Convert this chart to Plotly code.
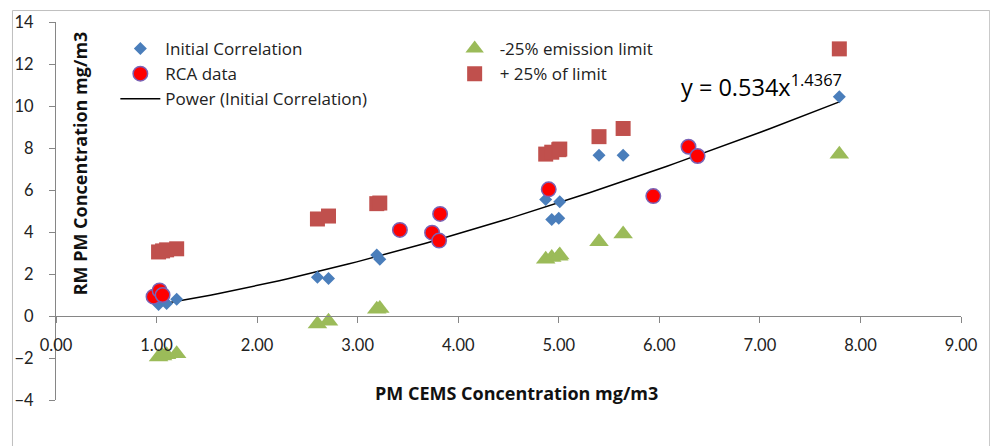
import plotly.graph_objects as go

# ---- data ----
ic_x = [1.02, 1.06, 1.10, 1.20, 2.60, 2.71, 3.19, 3.22, 4.87, 4.93, 5.00, 5.01, 5.40, 5.64, 7.79]
ic_y = [0.55, 0.90, 0.60, 0.80, 1.84, 1.78, 2.90, 2.70, 5.55, 4.60, 4.65, 5.44, 7.65, 7.65, 10.44]

rca_x = [0.97, 1.03, 1.06, 3.42, 3.74, 3.82, 3.81, 4.90, 5.94, 6.29, 6.38]
rca_y = [0.92, 1.22, 1.00, 4.10, 3.97, 4.86, 3.59, 6.03, 5.71, 8.06, 7.62]

lo_x = [1.02, 1.06, 1.10, 1.20, 2.60, 2.71, 3.19, 3.22, 4.87, 4.93, 5.00, 5.01, 5.40, 5.64, 7.79]
lo_y = [-1.95, -1.90, -1.85, -1.80, -0.38, -0.25, 0.32, 0.36, 2.70, 2.78, 2.85, 2.90, 3.54, 3.90, 7.70]

hi_x = [1.02, 1.06, 1.10, 1.20, 2.60, 2.71, 3.19, 3.22, 4.87, 4.93, 5.00, 5.01, 5.40, 5.64, 7.79]
hi_y = [3.05, 3.10, 3.15, 3.20, 4.62, 4.76, 5.35, 5.38, 7.71, 7.80, 7.92, 7.95, 8.54, 8.93, 12.72]

# power trendline shown on the chart: y = 0.534 x^1.4367
fit_a = 0.534
fit_b = 1.4367

x_ticks = [0, 1, 2, 3, 4, 5, 6, 7, 8, 9]
y_ticks = [-4, -2, 0, 2, 4, 6, 8, 10, 12, 14]

FONT = "Open Sans"
TICKFONT = "Lato"

# trendline over the range of the initial-correlation data
x0, x1 = min(ic_x), max(ic_x)
n = 80
fit_x = [x0 + (x1 - x0) * i / (n - 1) for i in range(n)]
fit_y = [fit_a * v ** fit_b for v in fit_x]

fig = go.Figure()

fig.add_trace(go.Scatter(
    x=fit_x, y=fit_y, mode="lines", name="Power (Initial Correlation)",
    line=dict(color="black", width=1.5), legend="legend", legendrank=3,
    hoverinfo="skip"))

fig.add_trace(go.Scatter(
    x=lo_x, y=lo_y, mode="markers", name="-25% emission limit",
    marker=dict(symbol="triangle-up", size=17, color="#9BBB59"),
    legend="legend2", legendrank=1))

fig.add_trace(go.Scatter(
    x=hi_x, y=hi_y, mode="markers", name="+ 25% of limit",
    marker=dict(symbol="square", size=15, color="#C0504D"),
    legend="legend2", legendrank=2))

fig.add_trace(go.Scatter(
    x=ic_x, y=ic_y, mode="markers", name="Initial Correlation",
    marker=dict(symbol="diamond", size=10, color="#4A7EBB"),
    legend="legend", legendrank=1))

fig.add_trace(go.Scatter(
    x=rca_x, y=rca_y, mode="markers", name="RCA data",
    marker=dict(symbol="circle", size=14.5, color="#FF0000",
                line=dict(color="#7A62B5", width=1.5)),
    legend="legend", legendrank=2))

axis_col = "#868686"

W, H = 990, 446
ML, MR, MT, MB = 56, 19, 21, 46
PW = W - ML - MR
PH = H - MT - MB


def px_x(p):
    return (p - ML) / PW


def px_y(p):
    return (H - MB - p) / PH


fig.update_layout(
    width=W, height=H,
    margin=dict(l=ML, r=MR, t=MT, b=MB),
    paper_bgcolor="white", plot_bgcolor="white",
    font=dict(family=FONT, size=17, color="black"),
    xaxis=dict(
        range=[0, 9], tickvals=x_ticks, tickformat=".2f",
        showgrid=False, zeroline=False,
        showline=True, linecolor=axis_col, linewidth=1,
        ticks="outside", ticklen=6, tickcolor=axis_col,
        anchor="free", position=4 / 18,
        ticklabelstandoff=8,
        tickfont=dict(family=TICKFONT, size=16.5, color="#222"),
    ),
    yaxis=dict(
        range=[-4, 14], tickvals=y_ticks,
        showgrid=False, zeroline=False,
        showline=True, linecolor=axis_col, linewidth=1,
        ticks="outside", ticklen=6, tickcolor=axis_col,
        ticklabelstandoff=12,
        tickfont=dict(family=TICKFONT, size=16.5, color="#222"),
    ),
    legend=dict(
        x=px_x(116), y=px_y(30), xanchor="left", yanchor="top",
        bgcolor="rgba(0,0,0,0)", font=dict(family=FONT, size=17, color="#222"),
        traceorder="normal", itemwidth=40, tracegroupgap=0,
    ),
    legend2=dict(
        x=px_x(454), y=px_y(30), xanchor="left", yanchor="top",
        bgcolor="rgba(0,0,0,0)", font=dict(family=FONT, size=17, color="#222"),
        traceorder="normal", itemwidth=40, tracegroupgap=0,
    ),
    showlegend=True,
)

# axis titles (placed inside the chart like the original)
fig.add_annotation(
    text="<b>RM PM Concentration mg/m3</b>", textangle=-90,
    xref="paper", yref="paper", x=px_x(80), y=px_y(163),
    xanchor="center", yanchor="middle",
    showarrow=False, font=dict(family=FONT, size=18, color="#111"))
fig.add_annotation(
    text="<b>PM CEMS Concentration mg/m3</b>",
    xref="paper", yref="paper", x=px_x(522), y=px_y(393),
    xanchor="center", yanchor="middle",
    showarrow=False, font=dict(family=FONT, size=18, color="#111"))

# trendline equation
fig.add_annotation(
    text="y = 0.534x<sup>1.4367</sup>",
    xref="paper", yref="paper", x=px_x(686), y=px_y(104),
    xanchor="left", yanchor="bottom", showarrow=False,
    font=dict(family=FONT, size=23.5, color="black"))

# chart-area border
fig.add_shape(type="rect", xref="paper", yref="paper",
              x0=px_x(12), x1=px_x(1000),
              y0=px_y(460), y1=px_y(9.5),
              line=dict(color="#BFBFBF", width=1), fillcolor="rgba(0,0,0,0)", layer="below")

fig.write_html("out.html", config={"displayModeBar": False},
               post_script="document.body.style.margin='0';document.body.style.overflow='hidden';")
